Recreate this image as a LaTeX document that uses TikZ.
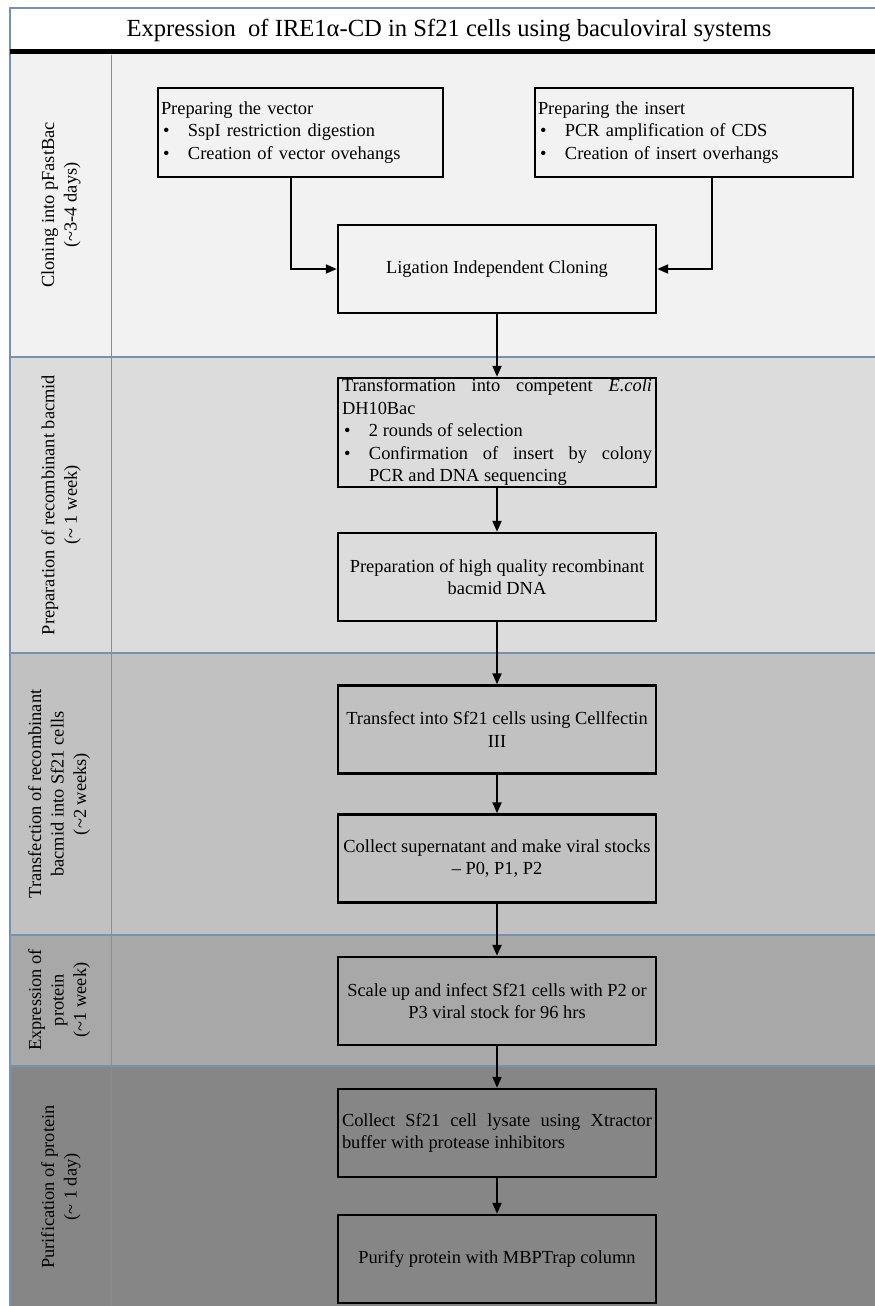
\documentclass[tikz,border=0pt]{standalone}
\usepackage{fontspec}
\setmainfont{Liberation Serif}
\usetikzlibrary{arrows.meta}
\newcommand\myfont{\fontsize{18.4}{22.5}\selectfont}
\newcommand\mytitlefont{\fontsize{24.6}{28}\selectfont}
\newcommand\bul[1]{\par\noindent\makebox[27pt][l]{\hspace{2pt}\textbullet}\parbox[t]{\dimexpr\hsize-27pt\relax}{#1}}
\definecolor{laneblue}{RGB}{120,145,175}
\definecolor{laneA}{HTML}{F2F2F2}
\definecolor{laneB}{HTML}{DCDCDC}
\definecolor{laneC}{HTML}{C1C1C1}
\definecolor{laneD}{HTML}{A8A8A8}
\definecolor{laneE}{HTML}{868686}
\begin{document}
\begin{tikzpicture}[x=1pt,y=-1pt,
  box/.style={draw=black, line width=2.4pt, minimum width=318pt, minimum height=88pt,
    inner xsep=3pt, inner ysep=0pt, font=\myfont, align=center},
  jbox/.style={box, text width=310pt, align=justify},
  sidebox/.style={draw=black, line width=2.4pt, minimum height=89pt,
    inner xsep=3pt, inner ysep=0pt, font=\myfont, align=left},
  lanelabel/.style={rotate=90, align=center, font=\myfont},
  lane/.style={draw=laneblue, line width=1.6pt},
  arr/.style={draw=black, line width=2pt, -{Triangle[length=11pt,width=9pt]}}
]
\useasboundingbox (0,0) rectangle (875,1306);
\fill[white] (0,0) rectangle (875,1306);
% lanes
\fill[laneA] (10,52) rectangle (875,357);
\fill[laneB] (10,357) rectangle (875,653);
\fill[laneC] (10,653) rectangle (875,935);
\fill[laneD] (10,935) rectangle (875,1066);
\fill[laneE] (10,1066) rectangle (875,1306);
\draw[lane] (10,1306) -- (10,8) -- (875,8);
\draw[lane] (111.5,55) -- (111.5,1306);
\draw[lane] (10,357) -- (875,357);
\draw[lane] (10,653) -- (875,653);
\draw[lane] (10,935) -- (875,935);
\draw[lane] (10,1066) -- (875,1066);
\draw[black, line width=5pt] (10,52) -- (875,52);
% title
\node[font=\mytitlefont] (title) at (449,30) {Expression\ \ of IRE1α-CD in Sf21 cells using baculoviral systems};
% lane labels
\node[lanelabel] (l1) at (61,205) {Cloning into pFastBac\\(\textasciitilde3-4 days)};
\node[lanelabel] (l2) at (61,505) {Preparation of recombinant bacmid\\(\textasciitilde{} 1 week)};
\node[lanelabel] (l3) at (59,794) {Transfection of recombinant\\bacmid into Sf21 cells\\(\textasciitilde2 weeks)};
\node[lanelabel] (l4) at (59,1000) {Expression of\\protein\\(\textasciitilde1 week)};
\node[lanelabel] (l5) at (61,1187) {Purification of protein\\(\textasciitilde{} 1 day)};
% boxes
\node[sidebox, minimum width=285pt, text width=279pt] (vec) at (300.5,132.5)
  {Preparing the vector\bul{SspI restriction digestion}\bul{Creation of vector ovehangs}};
\node[sidebox, minimum width=318pt, text width=312pt] (ins) at (694,132.5)
  {Preparing the insert\bul{PCR amplification of CDS}\bul{Creation of insert overhangs}};
\node[box] (lic) at (497,269) {Ligation Independent Cloning};
\node[jbox, minimum height=109pt] (tra) at (497,432.5)
  {Transformation into competent \textit{E.coli}\linebreak DH10Bac\bul{2 rounds of selection}\bul{Confirmation of insert by colony\linebreak PCR and DNA sequencing}};
\node[box] (prep) at (497,577) {Preparation of high quality recombinant\\bacmid DNA};
\node[box] (tf) at (497,729.5) {Transfect into Sf21 cells using Cellfectin\\III};
\node[box] (sup) at (497,858.5) {Collect supernatant and make viral stocks\\– P0, P1, P2};
\node[box] (scale) at (497,1001) {Scale up and infect Sf21 cells with P2 or\\P3 viral stock for 96 hrs};
\node[jbox] (lys) at (497,1133) {Collect Sf21 cell lysate using Xtractor\linebreak buffer with protease inhibitors};
\node[box] (mbp) at (497,1259) {Purify protein with MBPTrap column};
% connectors
\draw[arr] ([xshift=-9.5pt]vec.south) |- (lic.west);
\draw[arr] ([xshift=18pt]ins.south) |- (lic.east);
\draw[arr] (lic) -- (tra);
\draw[arr] (tra) -- (prep);
\draw[arr] (prep) -- (tf);
\draw[arr] (tf) -- (sup);
\draw[arr] (sup) -- (scale);
\draw[arr] (scale) -- (lys);
\draw[arr] (lys) -- (mbp);
\end{tikzpicture}
\end{document}
